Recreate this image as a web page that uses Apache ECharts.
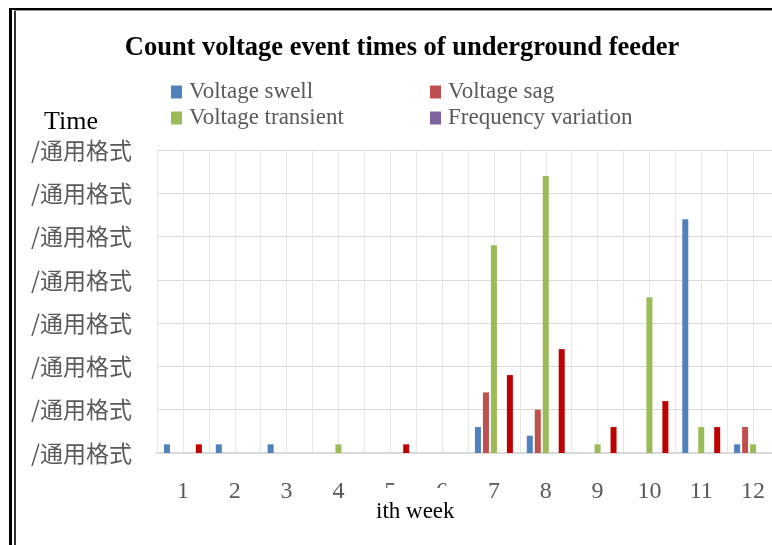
<!DOCTYPE html>
<html>
<head>
<meta charset="utf-8">
<script src="https://cdn.jsdelivr.net/npm/echarts@6/dist/echarts.min.js"></script>
<style>
  html, body { margin: 0; padding: 0; background: #fff; }
  #main { width: 772px; height: 545px; }
</style>
</head>
<body>
<div id="main"></div>
<script>
// weeks on the x axis
var weeks = ['1', '2', '3', '4', '5', '6', '7', '8', '9', '10', '11', '12'];

// event counts
var swell      = [1, 1, 1, 0, 0, 0, 3, 2, 0, 0, 27, 1];
var sag        = [0, 0, 0, 0, 0, 0, 7, 5, 0, 0, 0, 3];
var transient  = [0, 0, 0, 1, 0, 0, 24, 32, 1, 18, 3, 1];
var freqVar    = [0, 0, 0, 0, 0, 0, 0, 0, 0, 0, 0, 0];
var interrupt  = [1, 0, 0, 0, 1, 0, 9, 12, 3, 6, 3, 0];

var serif = '"Liberation Serif", "Times New Roman", serif';

var myChart = echarts.init(document.getElementById('main'));

function bar(name, data, color) {
    return {
        name: name,
        type: 'bar',
        data: data,
        barWidth: 6,
        barGap: '33%',
        itemStyle: {color: color},
        emphasis: {disabled: true}
    };
}

var legendText = {fontFamily: serif, fontSize: 23, color: '#595959', lineHeight: 24, padding: [0, 0, 0, 2]};

var option = {
    animation: false,
    color: ['#4F81BD', '#C0504D', '#9BBB59', '#8064A2', '#C00000'],
    title: {
        text: 'Count voltage event times of underground feeder',
        left: 397,
        textAlign: 'center',
        top: 30,
        textStyle: {fontFamily: serif, fontSize: 26.5, fontWeight: 'bold', color: '#000'}
    },
    legend: [{
        data: ['Voltage swell', 'Voltage transient'],
        orient: 'vertical',
        left: 171,
        top: 80,
        padding: 0,
        itemWidth: 11,
        itemHeight: 13,
        itemGap: 2,
        icon: 'rect',
        textStyle: legendText
    }, {
        data: ['Voltage sag', 'Frequency variation'],
        orient: 'vertical',
        left: 430,
        top: 80,
        padding: 0,
        itemWidth: 11,
        itemHeight: 13,
        itemGap: 2,
        icon: 'rect',
        textStyle: legendText
    }],
    grid: {left: 157, top: 150, width: 622, height: 303, containLabel: false, outerBoundsMode: 'none'},
    xAxis: [{
        type: 'category',
        data: weeks,
        axisLine: {lineStyle: {color: '#D9D9D9', width: 2}},
        axisTick: {show: false},
        splitLine: {show: false},
        axisLabel: {margin: 27, fontFamily: serif, fontSize: 24, color: '#595959'}
    }, {
        // half-week grid lines
        type: 'value',
        min: 0,
        max: 12,
        interval: 0.5,
        position: 'bottom',
        axisLine: {show: false},
        axisTick: {show: false},
        axisLabel: {show: false},
        splitLine: {show: true, lineStyle: {color: '#E6E6E6', width: 1}}
    }],
    yAxis: {
        type: 'value',
        min: 0,
        max: 35,
        interval: 5,
        axisLine: {show: false},
        axisTick: {show: false},
        splitLine: {lineStyle: {color: '#D9D9D9', width: 1}},
        axisLabel: {
            margin: 25,
            formatter: function () { return '/通用格式'; },
            fontFamily: '"Noto Sans CJK SC", "Noto Sans", sans-serif',
            fontSize: 23,
            color: '#595959'
        }
    },
    series: [
        bar('Voltage swell', swell, '#4F81BD'),
        bar('Voltage sag', sag, '#C0504D'),
        bar('Voltage transient', transient, '#9BBB59'),
        bar('Frequency variation', freqVar, '#8064A2'),
        bar('Voltage interruption', interrupt, '#C00000')
    ],
    graphic: [
        {type: 'text', left: 44, top: 109, style: {text: 'Time', font: '26px ' + serif, fill: '#000'}},
        {
            type: 'text', z: 100, left: 361, top: 488,
            style: {
                text: 'ith week', font: '23px ' + serif, fill: '#000',
                backgroundColor: '#fff', padding: [12, 15, 6, 15]
            }
        },
        // double frame
        {type: 'rect', shape: {x: 9, y: 8, width: 3, height: 540}, style: {fill: '#000'}},
        {type: 'rect', shape: {x: 9, y: 8, width: 770, height: 2}, style: {fill: '#000'}},
        {type: 'rect', shape: {x: 14, y: 10, width: 2, height: 540}, style: {fill: '#333'}},
        {type: 'rect', shape: {x: 14, y: 10, width: 770, height: 1}, style: {fill: '#999'}}
    ]
};

myChart.setOption(option);
</script>
</body>
</html>
